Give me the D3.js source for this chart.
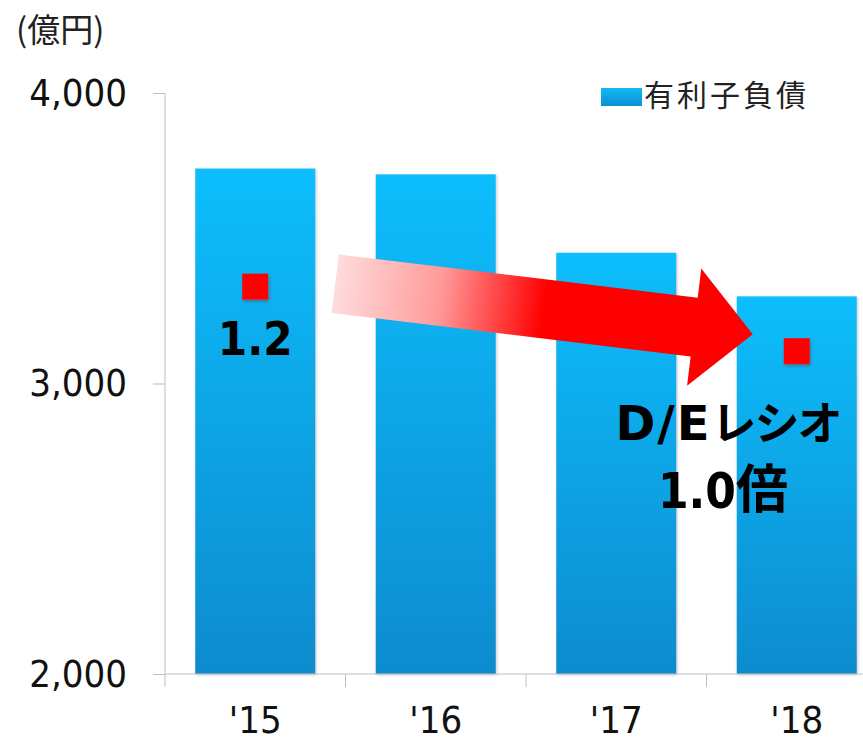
<!DOCTYPE html>
<html>
<head>
<meta charset="utf-8">
<script src="https://cdn.jsdelivr.net/npm/d3@7"></script>
<style>
  html, body { margin: 0; padding: 0; background: #fff; }
  svg { display: block; }
</style>
</head>
<body>
<svg id="chart" width="863" height="741"></svg>
<script>
// Interest-bearing debt (億円) and D/E ratio by fiscal year
const years = ["'15", "'16", "'17", "'18"];
const debt = [3740, 3720, 3450, 3300];
const deYears = ["'15", "'18"];
const deRatio = [1.2, 1.0];
const yTicks = [2000, 3000, 4000];

const svg = d3.select("#chart");
const W = 863, H = 741;
const plot = { left: 165, top: 93, bottom: 674, right: 887 };

const x = d3.scaleBand().domain(years).range([plot.left, plot.right]).paddingInner(0.335).paddingOuter(0.1675);
const y = d3.scaleLinear().domain([2000, 4000]).range([plot.bottom, plot.top]);
const y2 = d3.scaleLinear().domain([0, 1.8]).range([plot.bottom, plot.top]);

const defs = svg.append("defs");
const barGrad = defs.append("linearGradient").attr("id", "barGrad")
  .attr("x1", 0).attr("y1", 0).attr("x2", 0).attr("y2", 1);
barGrad.append("stop").attr("offset", "0%").attr("stop-color", "#10BEFC");
barGrad.append("stop").attr("offset", "100%").attr("stop-color", "#0C8CCF");

const legGrad = defs.append("linearGradient").attr("id", "legGrad")
  .attr("x1", 0).attr("y1", 0).attr("x2", 0).attr("y2", 1);
legGrad.append("stop").attr("offset", "0%").attr("stop-color", "#12B8F4");
legGrad.append("stop").attr("offset", "100%").attr("stop-color", "#0C8FD3");

const arrowGrad = defs.append("linearGradient").attr("id", "arrowGrad")
  .attr("x1", 0).attr("y1", 0).attr("x2", 1).attr("y2", 0);
arrowGrad.append("stop").attr("offset", "0%").attr("stop-color", "#FFDCDC");
arrowGrad.append("stop").attr("offset", "25%").attr("stop-color", "#FF9A9A");
arrowGrad.append("stop").attr("offset", "50%").attr("stop-color", "#FF0000");
arrowGrad.append("stop").attr("offset", "100%").attr("stop-color", "#FF0000");

const barShadow = defs.append("filter").attr("id", "barShadow")
  .attr("x", "-10%").attr("y", "-10%").attr("width", "120%").attr("height", "120%");
barShadow.append("feDropShadow").attr("dx", 1).attr("dy", 1)
  .attr("stdDeviation", 1.5).attr("flood-color", "#808080").attr("flood-opacity", 0.45);

const markShadow = defs.append("filter").attr("id", "markShadow")
  .attr("x", "-30%").attr("y", "-30%").attr("width", "160%").attr("height", "160%");
markShadow.append("feDropShadow").attr("dx", 1).attr("dy", 2)
  .attr("stdDeviation", 1.5).attr("flood-color", "#404040").attr("flood-opacity", 0.45);

const axisColor = "#BFBFBF";
const numFont = "'DejaVu Sans Condensed', 'DejaVu Sans', sans-serif";
const jpFont = "'Noto Sans CJK JP', sans-serif";

// Bars
svg.append("g").selectAll("rect").data(years).join("rect")
  .attr("x", d => x(d))
  .attr("width", x.bandwidth())
  .attr("y", (d, i) => y(debt[i]))
  .attr("height", (d, i) => y(2000) - y(debt[i]))
  .attr("fill", "url(#barGrad)")
  .attr("filter", "url(#barShadow)");

// Y axis
const yAxis = svg.append("g").attr("transform", `translate(${plot.left},0)`)
  .call(d3.axisLeft(y).tickValues(yTicks).tickFormat(d3.format(",")).tickSize(12).tickPadding(26));
yAxis.select(".domain").attr("stroke", axisColor).attr("d", `M0,${plot.top}V${plot.bottom}`);
yAxis.selectAll(".tick line").attr("stroke", axisColor);
yAxis.selectAll(".tick text").attr("font-family", numFont).attr("font-size", 38).attr("fill", "#111");

// X axis: baseline, category boundary ticks, labels
const xg = svg.append("g");
xg.append("line").attr("x1", plot.left).attr("x2", W).attr("y1", plot.bottom).attr("y2", plot.bottom)
  .attr("stroke", axisColor);
const step = x.step();
const bounds = d3.range(years.length).map(i => plot.left + i * step);
xg.selectAll("line.bt").data(bounds).join("line").attr("class", "bt")
  .attr("x1", d => d).attr("x2", d => d)
  .attr("y1", plot.bottom).attr("y2", plot.bottom + 13)
  .attr("stroke", axisColor);
xg.selectAll("text").data(years).join("text")
  .attr("x", d => x(d) + x.bandwidth() / 2)
  .attr("y", 719)
  .attr("dy", "0.36em")
  .attr("text-anchor", "middle")
  .attr("font-family", numFont).attr("font-size", 38).attr("fill", "#111")
  .text(d => d);

// Unit label
svg.append("text").attr("x", 16).attr("y", 42)
  .attr("font-family", jpFont).attr("font-size", 33).attr("fill", "#222")
  .text("(億円)");

// Legend
svg.append("rect").attr("x", 601).attr("y", 88).attr("width", 41).attr("height", 18)
  .attr("fill", "url(#legGrad)");
svg.append("text").attr("x", 644).attr("y", 106)
  .attr("font-family", jpFont).attr("font-size", 30).attr("letter-spacing", 3).attr("fill", "#222")
  .text("有利子負債");

// Trend arrow from the '15 ratio toward the '18 ratio
const ax0 = x("'15") + x.bandwidth() / 2 + 80, ay0 = y2(1.2) - 3;
const ax1 = x("'18") + x.bandwidth() / 2 - 44, ay1 = y2(1.0) - 17;
const len = Math.hypot(ax1 - ax0, ay1 - ay0);
const ang = Math.atan2(ay1 - ay0, ax1 - ax0) * 180 / Math.PI;
const sw = 29.5, hw = 59, hl = 59;
const arrowPath = d3.path();
arrowPath.moveTo(0, -sw);
arrowPath.lineTo(len - hl, -sw);
arrowPath.lineTo(len - hl, -hw);
arrowPath.lineTo(len, 0);
arrowPath.lineTo(len - hl, hw);
arrowPath.lineTo(len - hl, sw);
arrowPath.lineTo(0, sw);
arrowPath.closePath();
svg.append("path")
  .attr("transform", `translate(${ax0},${ay0}) rotate(${ang})`)
  .attr("d", arrowPath.toString())
  .attr("fill", "url(#arrowGrad)");

// D/E ratio markers
svg.append("g").selectAll("rect").data(deYears).join("rect")
  .attr("x", d => x(d) + x.bandwidth() / 2 - 13)
  .attr("y", (d, i) => y2(deRatio[i]) - 13)
  .attr("width", 26).attr("height", 26)
  .attr("fill", "#FF0000")
  .attr("filter", "url(#markShadow)");

// Ratio labels
svg.append("text")
  .attr("x", x("'15") + x.bandwidth() / 2).attr("y", 355)
  .attr("text-anchor", "middle")
  .attr("font-family", numFont).attr("font-weight", "bold").attr("font-size", 47).attr("fill", "#000")
  .text(d3.format(".1f")(deRatio[0]));

const deLabel = svg.append("g").attr("font-weight", "bold").attr("fill", "#000");
const l1 = deLabel.append("text").attr("x", 728).attr("y", 440).attr("text-anchor", "middle");
l1.append("tspan").attr("font-family", "'DejaVu Sans', sans-serif").attr("font-size", 48).attr("letter-spacing", 2).text("D/E");
l1.append("tspan").attr("font-family", jpFont).attr("font-size", 45).attr("letter-spacing", -2).text("レシオ");
const l2 = deLabel.append("text").attr("x", 723).attr("y", 508).attr("text-anchor", "middle");
l2.append("tspan").attr("font-family", numFont).attr("font-size", 49).text(d3.format(".1f")(deRatio[1]));
l2.append("tspan").attr("font-family", jpFont).attr("font-size", 52).text("倍");
</script>
</body>
</html>
